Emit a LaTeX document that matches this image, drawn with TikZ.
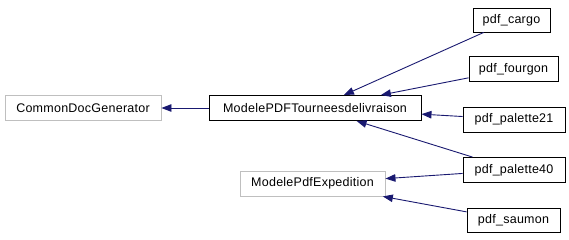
\documentclass[tikz,border=0pt]{standalone}
\usepackage{fontspec}
\setmainfont{Liberation Sans}[LetterSpace=2]
\usetikzlibrary{arrows.meta}
\definecolor{edgeblue}{HTML}{191970}
\definecolor{greyframe}{HTML}{BFBFBF}
\tikzset{
  cls/.style={draw=black, line width=0.9pt, fill=white, inner sep=0pt,
    minimum height=25pt, font=\fontsize{12.5}{14}\selectfont},
  extcls/.style={cls, draw=greyframe},
  inherit/.style={draw=edgeblue, line width=0.9pt,
    -{Triangle[length=10pt,width=7.5pt]}}
}
\begin{document}
\begin{tikzpicture}[x=1pt,y=-1pt]
  \useasboundingbox (0,0) rectangle (569,240);
  % classes
  \node[extcls, minimum width=156pt] (common) at (83,108) {CommonDocGenerator};
  \node[cls, minimum width=212pt] (tournees) at (315,108) {ModelePDFTourneesdelivraison};
  \node[extcls, minimum width=145pt] (exped) at (312.5,183.5) {ModelePdfExpedition};
  \node[cls, minimum width=77pt, minimum height=24pt] (cargo) at (511.5,20) {pdf\_cargo};
  \node[cls, minimum width=89pt] (fourgon) at (513.5,69) {pdf\_fourgon};
  \node[cls, minimum width=102pt] (pal21) at (514,119.5) {pdf\_palette21};
  \node[cls, minimum width=102pt] (pal40) at (514,170) {pdf\_palette40};
  \node[cls, minimum width=93pt, minimum height=24pt] (saumon) at (513.5,220.5) {pdf\_saumon};
  % inheritance arrows, derived -> base
  \draw[inherit] (tournees) -- (common);
  \draw[inherit] (cargo) -- (tournees);
  \draw[inherit] (fourgon) -- (tournees);
  \draw[inherit] (pal21) -- (tournees);
  \draw[inherit] (pal40) -- (tournees);
  \draw[inherit] (pal40) -- (exped);
  \draw[inherit] (saumon) -- (exped);
\end{tikzpicture}
\end{document}
